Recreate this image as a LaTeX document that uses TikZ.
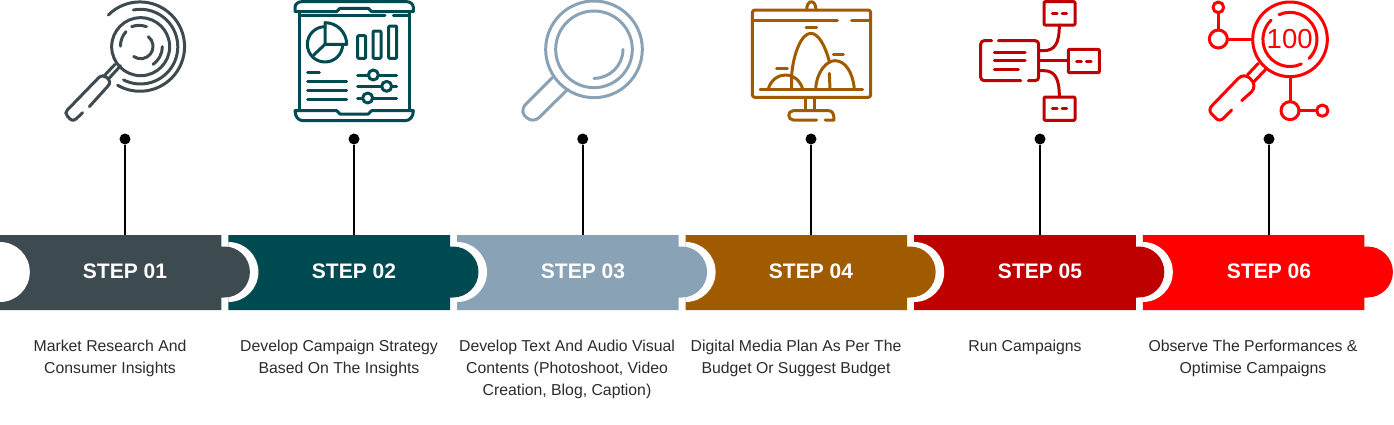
\documentclass[tikz,border=0pt]{standalone}
\usepackage{fontspec}
\setmainfont{Liberation Sans}
\definecolor{cA}{HTML}{3D4A50}
\definecolor{cB}{HTML}{004B52}
\definecolor{cC}{HTML}{8AA2B5}
\definecolor{cD}{HTML}{A05A00}
\definecolor{cE}{HTML}{BF0000}
\definecolor{cF}{HTML}{FF0000}
\definecolor{txt}{HTML}{2B2B2B}
\tikzset{
  stepfont/.style={text=white,font=\bfseries\fontsize{21}{24}\selectfont,inner sep=0pt},
  desc/.style={text=txt,font=\fontsize{15.8}{22}\selectfont,align=center,anchor=north,inner sep=0pt},
  pin/.style={circle,fill=black,inner sep=0pt,minimum size=11pt},
  pinline/.style={black,line width=2pt},
  ico/.style={line width=3pt,line cap=round,line join=round},
  zoomA/.style={shift={(40,0)},x=.33333pt,y=-.33333pt},
  zoomB/.style={shift={(500,0)},x=.33333pt,y=-.33333pt},
  zoomC/.style={shift={(960,0)},x=.33333pt,y=-.33333pt}
}
% #1 left edge, #2 colour: body and tab are one path, the notch is cut in white
\newcommand{\bandseg}[2]{%
  \fill[#2] (#1,235) -- (#1+221.6,235) -- (#1+221.6,246.5) -- (#1+224.6,246.5) arc[start angle=-90,end angle=90,radius=25.5] -- (#1+221.6,297.5) -- (#1+221.6,310) -- (#1,310) -- cycle;
  \fill[white] (#1,242) arc[start angle=-90,end angle=90,radius=30] -- cycle;
}
\begin{document}
\begin{tikzpicture}[x=1pt,y=-1pt]
\useasboundingbox (0,0) rectangle (1394,424);
% band, right to left so each tab lies over the next notch
\bandseg{1142.8}{cF}
\bandseg{914.2}{cE}
\bandseg{685.6}{cD}
\bandseg{457}{cC}
\bandseg{228.4}{cB}
\bandseg{-0.2}{cA}
% labels
\node[stepfont] (s1) at (125,271.5) {STEP 01};
\node[stepfont] (s2) at (354,271.5) {STEP 02};
\node[stepfont] (s3) at (583,271.5) {STEP 03};
\node[stepfont] (s4) at (811,271.5) {STEP 04};
\node[stepfont] (s5) at (1040,271.5) {STEP 05};
\node[stepfont] (s6) at (1269,271.5) {STEP 06};
% pins
\foreach \i/\xx in {1/125,2/354,3/582.7,4/811,5/1040,6/1269}{
  \node[pin] (p\i) at (\xx,139) {};
  \coordinate (b\i) at (\xx,235);
  \draw[pinline] (p\i) -- (b\i);
}
% descriptions
\node[desc] (t1) at (110,340) {Market Research And\\Consumer Insights};
\node[desc] (t2) at (339,340) {Develop Campaign Strategy\\Based On The Insights};
\node[desc] (t3) at (567,340) {Develop Text And Audio Visual\\Contents (Photoshoot, Video\\Creation, Blog, Caption)};
\node[desc] (t4) at (796,340) {Digital Media Plan As Per The\\Budget Or Suggest Budget};
\node[desc] (t5) at (1025,340) {Run Campaigns};
\node[desc] (t6) at (1253,340) {Observe The Performances \&\\Optimise Campaigns};
% icon 1
\begin{scope}[zoomA,ico,draw=cA]
  \draw (205,45) arc[start angle=225,end angle=480,radius=134];
  \draw (280,30) arc[start angle=259,end angle=477,radius=112];
  \draw (302,140) circle[radius=87];
  \draw (275,80) arc[start angle=250,end angle=290,radius=65] ;
  \draw (258,95) arc[start angle=222,end angle=180,radius=65];
  \draw (367,140) arc[start angle=0,end angle=55,radius=65];
  \draw (325,110) arc[start angle=-52,end angle=125,radius=37];
  \draw (242,197) -- (207,235);
  \draw (225,193) -- (192,228);
  \draw (128,338) -- (108,357) .. controls (102,363) and (95,362) .. (90,357) -- (82,348) .. controls (76,342) and (76,336) .. (82,330) -- (175,234) .. controls (183,226) and (193,226) .. (200,232) .. controls (210,240) and (212,250) .. (204,258) -- (148,320);
\end{scope}
% icon 2
\begin{scope}[zoomA,ico,draw=cB]
  \draw (765,35) -- (765,22) .. controls (765,12) and (775,5) .. (785,5) -- (1100,5) .. controls (1110,5) and (1120,12) .. (1120,22) -- (1120,35) -- (995,35) -- (985,25) -- (900,25) -- (890,35) -- cycle;
  \draw (780,47) -- (1035,47);
  \draw (1060,47) -- (1105,47);
  \draw (778,35) -- (778,332);
  \draw (1108,35) -- (1108,332);
  \draw (765,332) -- (890,332) -- (900,342) -- (985,342) -- (995,332) -- (1120,332) .. controls (1120,350) and (1110,362) .. (1095,362) -- (790,362) .. controls (775,362) and (765,350) .. (765,332) -- cycle;
  \draw (855,80) arc[start angle=270,end angle=0,radius=53];
  \draw (855,68) arc[start angle=270,end angle=360,radius=65] -- (855,133) -- cycle;
  \draw (855,133) -- (820,166);
  \draw[rounded corners=1pt] (953,107) rectangle (977,175);
  \draw[rounded corners=1pt] (999,93) rectangle (1023,175);
  \draw[rounded corners=1pt] (1046,78) rectangle (1070,175);
  \draw (803,218) -- (838,218);
  \draw (803,245) -- (920,245);
  \draw (803,272) -- (920,272);
  \draw (803,299) -- (920,299);
  \draw (953,225) -- (1070,225);
  \draw (953,259) -- (1070,259);
  \draw (953,294) -- (1070,294);
  \draw[fill=white] (1000,225) circle[radius=15];
  \draw[fill=white] (1040,259) circle[radius=15];
  \draw[fill=white] (983,294) circle[radius=15];
\end{scope}
% icon 3
\begin{scope}[zoomB,ico,draw=cC]
  \draw (282,148) circle[radius=145];
  \draw (282,148) circle[radius=115];
  \draw (369,148) arc[start angle=0,end angle=90,radius=87];
  \draw (158,232) -- (78,312) .. controls (62,328) and (68,345) .. (80,353) .. controls (92,364) and (108,362) .. (118,352) -- (203,268);
\end{scope}
% icon 4
\begin{scope}[zoomB,ico,draw=cD]
  \draw[rounded corners=2.5pt] (757,30) rectangle (1112,292);
  \draw (757,60) -- (1012,60);
  \draw (1055,60) -- (1112,60);
  \draw (920,30) .. controls (920,-3) and (948,-3) .. (948,30);
  \draw (780,267) -- (1088,267);
  \draw (917,292) -- (917,332);
  \draw (942,292) -- (942,332);
  \draw (950,360) -- (880,360) .. controls (862,360) and (862,332) .. (880,332) -- (985,332) .. controls (997,332) and (1002,340) .. (1002,360) -- (975,360);
  \draw (918,83) -- (950,83);
  \draw (1000,163) -- (1030,163);
  \draw (830,205) -- (862,205);
  \draw (805,267) .. controls (812,240) and (835,225) .. (855,225) .. controls (880,225) and (900,240) .. (908,267);
  \draw (875,267) -- (875,225) .. controls (880,160) and (905,100) .. (932,100) .. controls (955,100) and (975,135) .. (988,185);
  \draw (947,267) .. controls (950,215) and (980,182) .. (1005,182) .. controls (1035,182) and (1058,215) .. (1063,267);
  \draw (988,220) -- (990,267);
\end{scope}
% icon 5
\begin{scope}[zoomC,ico,draw=cE]
  \draw[rounded corners=3.5pt] (182,242) -- (62,242) -- (62,122) -- (95,122);
  \draw[rounded corners=3.5pt] (115,122) -- (236,122) -- (236,242) -- (205,242);
  \draw (103,158) -- (195,158);
  \draw (103,182) -- (195,182);
  \draw (103,207) -- (175,207);
  \draw[rounded corners=1pt] (252,5) rectangle (345,75);
  \draw[rounded corners=1pt] (325,148) rectangle (418,218);
  \draw[rounded corners=1pt] (252,291) rectangle (345,361);
  \foreach \dx/\dy in {0/0,73/143,0/286}{
    \draw[shift={(\dx,\dy)}] (277,40) -- (291,40);
    \draw[shift={(\dx,\dy)}] (306,40) -- (320,40);
  }
  \draw (236,152) -- (250,152) .. controls (285,152) and (298,130) .. (298,75);
  \draw (236,182) -- (325,182);
  \draw (236,212) -- (250,212) .. controls (285,212) and (298,235) .. (298,291);
\end{scope}
% icon 6
\begin{scope}[zoomC,ico,draw=cF]
  \draw (990,118) circle[radius=112];
  \draw (957,44) arc[start angle=246,end angle=405,radius=81];
  \draw (1024,192) arc[start angle=65,end angle=226,radius=81];
  \node[text=cF,font=\fontsize{27.5}{27}\selectfont,inner sep=0pt] (hundred) at (989,117) {100};
  \draw (775,22) circle[radius=16];
  \draw (775,38) -- (775,90);
  \draw (775,117) circle[radius=27];
  \draw (802,117) -- (878,117);
  \draw (895,190) -- (862,225);
  \draw (920,205) -- (882,245);
  \draw (815,330) -- (790,355) .. controls (782,362) and (775,362) .. (768,355) -- (755,342) .. controls (748,335) and (748,325) .. (755,318) -- (835,235) .. controls (845,225) and (860,225) .. (870,235) .. controls (885,248) and (885,265) .. (875,275) -- (845,302);
  \draw (990,230) -- (990,305);
  \draw (990,332) circle[radius=27];
  \draw (1017,332) -- (1070,332);
  \draw (1087,332) circle[radius=17];
\end{scope}
\end{tikzpicture}
\end{document}
